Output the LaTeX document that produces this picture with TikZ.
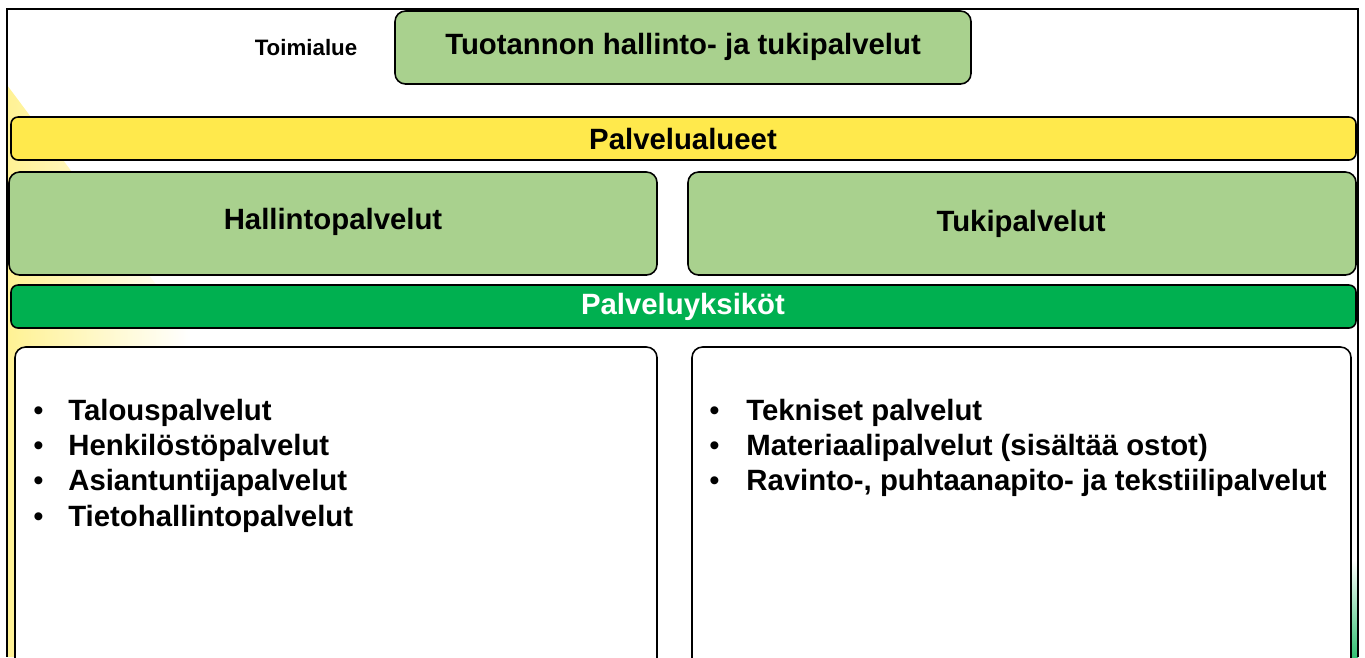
\documentclass[tikz,border=0pt]{standalone}
\usepackage{fontspec}
\setmainfont{Liberation Sans}
\usetikzlibrary{positioning}

\definecolor{lightgrn}{HTML}{A9D18E}
\definecolor{darkgrn}{HTML}{00B050}
\definecolor{barylw}{HTML}{FFE94C}

\tikzset{
  box/.style={draw=black, line width=0.9pt, rounded corners=6pt, inner sep=0pt},
  bar/.style={box, rounded corners=4pt},
  lbl/.style={font=\bfseries\fontsize{16.7}{19}\selectfont},
  lst/.style={font=\bfseries\fontsize{16.7}{20.1}\selectfont, align=left, anchor=north west, inner sep=0pt}
}
\newcommand{\blt}{\textmd{\textbullet}}

\begin{document}
\begin{tikzpicture}[x=0.02cm, y=-0.02cm]
	\useasboundingbox (0,0) rectangle (1365,657);
	% background
	\shade[left color=barylw!60, right color=white] (7,85) -- (190,330) -- (190,657) -- (7,657) -- cycle;
	\shade[top color=white, bottom color=darkgrn!80] (1348,560) rectangle (1358,657);
	\draw[line width=0.9pt] (7,657) -- (7,9) -- (1358,9) -- (1358,657);

	\node[lbl, font=\bfseries\fontsize{12.7}{15}\selectfont] (toimi) at (306,48) {Toimialue};
	\draw[box, fill=lightgrn] (395,11) rectangle (971,84);
	\node[lbl] (tuot) at (683,47) {Tuotannon hallinto- ja tukipalvelut};

	\draw[bar, fill=barylw] (11,117) rectangle (1356,160);
	\node[lbl] (alueet) at (683,139) {Palvelualueet};

	\draw[box, fill=lightgrn] (9,172) rectangle (657,275);
	\node[lbl] (hall) at (333,222) {Hallintopalvelut};
	\draw[box, fill=lightgrn] (688,172) rectangle (1356,275);
	\node[lbl] (tuki) at (1021,224) {Tukipalvelut};

	\draw[bar, fill=darkgrn] (11,285) rectangle (1356,328);
	\node[lbl, text=white] (yks) at (683,307) {Palveluyksiköt};

	\draw[box, fill=white] (15,680) -- (15,347) -- (657,347) -- (657,680);
	\draw[box, fill=white] (692,680) -- (692,347) -- (1351,347) -- (1351,680);

	\node[lst] (vasen) at (33,395) {%
		\begin{tabular}{@{}p{0.7cm}@{}l@{}}
		\blt & Talouspalvelut\\
		\blt & Henkilöstöpalvelut\\
		\blt & Asiantuntijapalvelut\\
		\blt & Tietohallintopalvelut
		\end{tabular}};
	\node[lst] (oikea) at (709,395) {%
		\begin{tabular}{@{}p{0.74cm}@{}l@{}}
		\blt & Tekniset palvelut\\
		\blt & Materiaalipalvelut (sisältää ostot)\\
		\blt & Ravinto-, puhtaanapito- ja tekstiilipalvelut
		\end{tabular}};
\end{tikzpicture}
\end{document}
